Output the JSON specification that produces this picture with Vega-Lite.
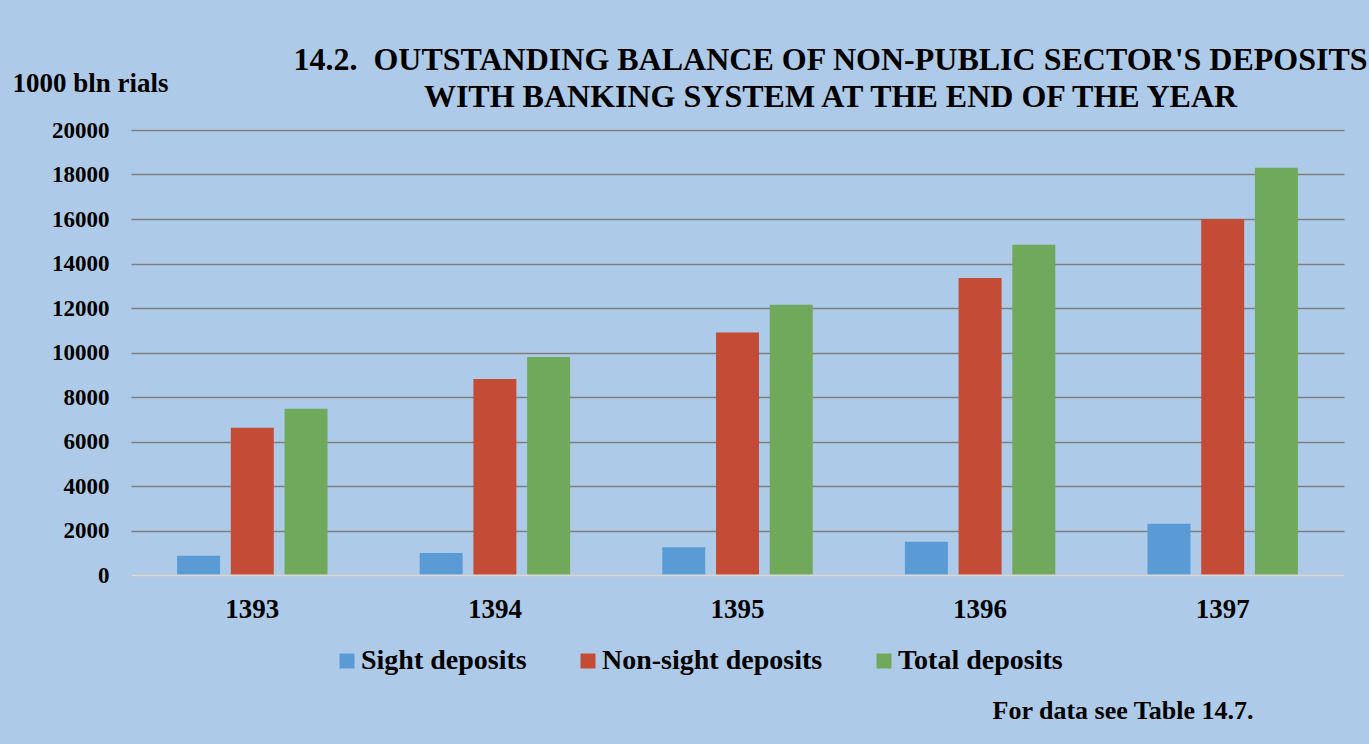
{
  "$schema": "https://vega.github.io/schema/vega-lite/v6.json",
  "width": 1213,
  "height": 445,
  "autosize": {"type": "none"},
  "padding": {"left": 131, "top": 130, "right": 25, "bottom": 169},
  "background": "#adcbe8",
  "title": {
    "text": ["14.2.\u00a0 OUTSTANDING BALANCE OF NON-PUBLIC SECTOR'S DEPOSITS", "WITH BANKING SYSTEM AT THE END OF THE YEAR"],
    "anchor": "middle",
    "frame": "group",
    "dx": 93,
    "dy": 49,
    "font": "Liberation Serif",
    "fontSize": 32,
    "fontWeight": "bold",
    "color": "#000000",
    "lineHeight": 37
  },
  "data": {
    "values": [
      {"year": "1393", "type": "Sight deposits", "value": 870},
      {"year": "1393", "type": "Non-sight deposits", "value": 6620},
      {"year": "1393", "type": "Total deposits", "value": 7470},
      {"year": "1394", "type": "Sight deposits", "value": 990},
      {"year": "1394", "type": "Non-sight deposits", "value": 8810},
      {"year": "1394", "type": "Total deposits", "value": 9800},
      {"year": "1395", "type": "Sight deposits", "value": 1245},
      {"year": "1395", "type": "Non-sight deposits", "value": 10900},
      {"year": "1395", "type": "Total deposits", "value": 12145},
      {"year": "1396", "type": "Sight deposits", "value": 1497},
      {"year": "1396", "type": "Non-sight deposits", "value": 13350},
      {"year": "1396", "type": "Total deposits", "value": 14847},
      {"year": "1397", "type": "Sight deposits", "value": 2306},
      {"year": "1397", "type": "Non-sight deposits", "value": 16000},
      {"year": "1397", "type": "Total deposits", "value": 18300}
    ]
  },
  "mark": {"type": "bar"},
  "encoding": {
    "x": {
      "field": "year",
      "type": "nominal",
      "scale": {"paddingInner": 0.38, "paddingOuter": 0.19},
      "axis": {
        "title": "For data see Table 14.7.",
        "titleX": 1122,
        "titleY": 143,
        "titleAlign": "right",
        "titleAnchor": null,
        "titleBaseline": "alphabetic",
        "titleFont": "Liberation Serif",
        "titleFontSize": 26,
        "titleFontWeight": "bold",
        "titleColor": "#000000",
        "labelAngle": 0,
        "labelFont": "Liberation Serif",
        "labelFontSize": 27,
        "labelFontWeight": "bold",
        "labelColor": "#000000",
        "labelBaseline": "alphabetic",
        "labelPadding": 42,
        "ticks": false,
        "domain": true,
        "domainColor": "#d9d9d9",
        "domainWidth": 2,
        "grid": false,
        "zindex": 1
      }
    },
    "xOffset": {
      "field": "type",
      "type": "nominal",
      "sort": ["Sight deposits", "Non-sight deposits", "Total deposits"],
      "scale": {"paddingInner": 0.2, "paddingOuter": 0}
    },
    "y": {
      "field": "value",
      "type": "quantitative",
      "scale": {"domain": [0, 20000], "nice": false},
      "axis": {
        "title": "1000 bln rials",
        "titleAngle": 0,
        "titleX": -119,
        "titleY": -39,
        "titleAlign": "left",
        "titleAnchor": null,
        "titleBaseline": "alphabetic",
        "titleFont": "Liberation Serif",
        "titleFontSize": 27,
        "titleFontWeight": "bold",
        "titleColor": "#000000",
        "values": [0, 2000, 4000, 6000, 8000, 10000, 12000, 14000, 16000, 18000, 20000],
        "format": "d",
        "labelFont": "Liberation Serif",
        "labelFontSize": 23,
        "labelFontWeight": "bold",
        "labelColor": "#000000",
        "labelPadding": 22,
        "ticks": false,
        "domain": false,
        "grid": true,
        "gridColor": "#7f7f7f",
        "gridWidth": 1.5
      }
    },
    "color": {
      "field": "type",
      "type": "nominal",
      "scale": {
        "domain": ["Sight deposits", "Non-sight deposits", "Total deposits"],
        "range": ["#5b9bd5", "#c44c37", "#70a85c"]
      },
      "legend": {
        "title": null,
        "orient": "none",
        "direction": "horizontal",
        "legendX": 202,
        "legendY": 517,
        "padding": 0,
        "symbolType": "square",
        "symbolSize": 225,
        "symbolStrokeWidth": 0,
        "symbolOpacity": 1,
        "labelFont": "Liberation Serif",
        "labelFontSize": 28,
        "labelFontWeight": "bold",
        "labelColor": "#000000",
        "labelOffset": 0,
        "columnPadding": 47,
        "labelLimit": 400
      }
    }
  },
  "config": {
    "view": {"stroke": null},
    "axis": {"labelLimit": 300}
  }
}
